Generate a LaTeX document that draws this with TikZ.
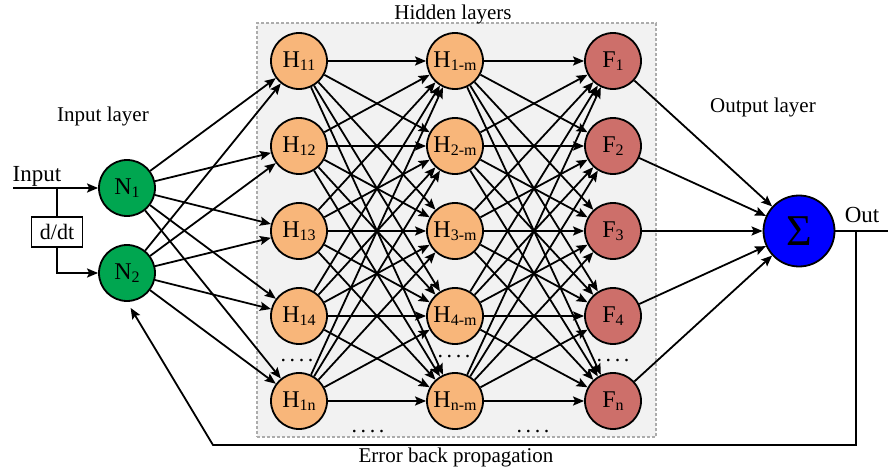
\documentclass[tikz,border=0pt]{standalone}
\usepackage{fontspec}
\setmainfont{Liberation Serif}
\usetikzlibrary{arrows.meta}

\definecolor{ngreen}{RGB}{0,166,80}
\definecolor{horange}{RGB}{248,182,122}
\definecolor{fred}{RGB}{205,111,106}
\definecolor{boxgray}{RGB}{242,242,242}

\newcommand\lsub[1]{\raisebox{-1.6pt}{\fontsize{8}{8}\selectfont #1}}
\newcommand\fdots{.\hspace{1.8pt}.\hspace{1.8pt}.\hspace{1.8pt}.}

\tikzset{
  neuron/.style={circle, draw, line width=0.9pt, minimum size=28pt, inner sep=0pt,
    font=\fontsize{12}{12}\selectfont},
  conn/.style={line width=0.9pt, -{Stealth[length=5.5pt, width=4.5pt, inset=1pt]}},
  lbl/.style={anchor=base, font=\fontsize{10.5}{12}\selectfont},
  dots/.style={anchor=base, font=\fontsize{11}{12}\selectfont},
}

\begin{document}
\begin{tikzpicture}[x=0.5pt, y=-0.5pt]
\useasboundingbox (0,0) rectangle (888,470);

% hidden layers frame
\node[draw=gray!65, dash pattern=on 1.5pt off 1pt, line width=0.6pt, fill=boxgray,
  minimum width=199.5pt, minimum height=207pt, inner sep=0pt] (hbox) at (456.5,230) {};
\node[lbl] (hidtxt) at (453,20) {Hidden layers};

\node[neuron, fill=ngreen] (n1) at (127,188) {N\lsub{1}};
\node[neuron, fill=ngreen] (n2) at (127,273) {N\lsub{2}};

\node[neuron, fill=horange] (a1) at (299,61) {H\lsub{11}};
\node[neuron, fill=horange] (a2) at (299,146) {H\lsub{12}};
\node[neuron, fill=horange] (a3) at (299,231) {H\lsub{13}};
\node[neuron, fill=horange] (a4) at (299,316) {H\lsub{14}};
\node[neuron, fill=horange] (a5) at (299,401) {H\lsub{1n}};

\node[neuron, fill=horange] (b1) at (455,61) {H\lsub{1-m}};
\node[neuron, fill=horange] (b2) at (455,146) {H\lsub{2-m}};
\node[neuron, fill=horange] (b3) at (455,231) {H\lsub{3-m}};
\node[neuron, fill=horange] (b4) at (455,316) {H\lsub{4-m}};
\node[neuron, fill=horange] (b5) at (455,401) {H\lsub{n-m}};

\node[neuron, fill=fred] (f1) at (613,61) {F\lsub{1}};
\node[neuron, fill=fred] (f2) at (613,146) {F\lsub{2}};
\node[neuron, fill=fred] (f3) at (613,231) {F\lsub{3}};
\node[neuron, fill=fred] (f4) at (613,316) {F\lsub{4}};
\node[neuron, fill=fred] (f5) at (613,401) {F\lsub{n}};

\node[neuron, fill=blue, minimum size=35.5pt, font=\fontsize{22}{22}\selectfont] (sum) at (799,231) {Σ};

\node[dots] (da) at (297,361) {\fdots};
\node[dots] (db) at (454,357) {\fdots};
\node[dots] (df) at (613,361) {\fdots};
\node[dots] (dc) at (368,432) {\fdots};
\node[dots] (dd) at (533,432) {\fdots};

\node[lbl] (inlay) at (103,122) {Input layer};
\node[lbl] (outlay) at (763,113) {Output layer};
\node[lbl] (errtxt) at (456,462) {Error back propagation};
\node[lbl, font=\fontsize{11.5}{12}\selectfont] (intxt) at (37,182) {Input};
\node[lbl, font=\fontsize{11.5}{12}\selectfont] (outtxt) at (862,223) {Out};

% input and derivative
\node[draw, line width=0.8pt, minimum width=25.5pt, minimum height=15pt, inner sep=1pt,
  font=\fontsize{11}{12}\selectfont] (ddt) at (57,232) {d/dt};
\coordinate (inp) at (13,188);
\coordinate (split) at (57,188);
\draw[conn] (inp) -- (n1);
\draw[line width=0.9pt] (split) -- (ddt);
\draw[conn] (ddt) |- (n2);

% connections
\foreach \i in {1,...,5} {
  \draw[conn] (n1) -- (a\i);
  \draw[conn] (n2) -- (a\i);
  \draw[conn] (f\i) -- (sum);
  \foreach \j in {1,...,5} {
    \draw[conn] (a\i) -- (b\j);
    \draw[conn] (b\i) -- (f\j);
  }
}

% output and error feedback
\coordinate (outend) at (888,231);
\coordinate (fbr) at (856,231);
\coordinate (fbd) at (856,445);
\coordinate (fbl) at (213,445);
\draw[line width=0.9pt] (sum) -- (outend);
\draw[conn, shorten >=3.5pt] (fbr) -- (fbd) -- (fbl) -- (n2.south);

\end{tikzpicture}
\end{document}
